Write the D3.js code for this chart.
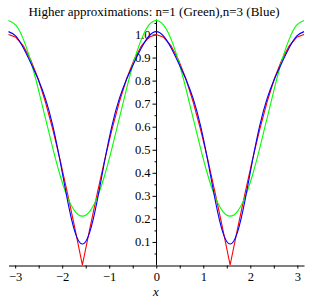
<!DOCTYPE html>
<html>
<head>
<meta charset="utf-8">
<script src="https://cdn.jsdelivr.net/npm/d3@7"></script>
<style>
  body { margin: 0; background: #fff; }
  svg { display: block; font-family: "Liberation Serif", "DejaVu Serif", serif; }
</style>
</head>
<body>
<div id="chart"></div>
<script>
// x values: -pi .. pi in steps of pi/20
const xVals = [-3.1416, -2.9845, -2.8274, -2.6704, -2.5133, -2.3562, -2.1991, -2.0420, -1.8850, -1.7279,
  -1.5708, -1.4137, -1.2566, -1.0996, -0.9425, -0.7854, -0.6283, -0.4712, -0.3142, -0.1571,
  0, 0.1571, 0.3142, 0.4712, 0.6283, 0.7854, 0.9425, 1.0996, 1.2566, 1.4137,
  1.5708, 1.7279, 1.8850, 2.0420, 2.1991, 2.3562, 2.5133, 2.6704, 2.8274, 2.9845, 3.1416]

// red: the function itself
const redVals = [1, .9877, .9511, .8910, .8090, .7071, .5878, .4540, .3090, .1564,
  0, .1564, .3090, .4540, .5878, .7071, .8090, .8910, .9511, .9877,
  1, .9877, .9511, .8910, .8090, .7071, .5878, .4540, .3090, .1564,
  0, .1564, .3090, .4540, .5878, .7071, .8090, .8910, .9511, .9877, 1]

// green: n=1 approximation
const greenVals = [1.0610, 1.0403, .9799, .8861, .7677, .6366, .5055, .3871, .2933, .2329,
  .2122, .2329, .2933, .3871, .5055, .6366, .7677, .8861, .9799, 1.0403,
  1.0610, 1.0403, .9799, .8861, .7677, .6366, .5055, .3871, .2933, .2329,
  .2122, .2329, .2933, .3871, .5055, .6366, .7677, .8861, .9799, 1.0403, 1.0610]

// blue: n=3 approximation
const blueVals = [1.0125, .9930, .9425, .8777, .8070, .7215, .6036, .4479, .2783, .1428,
  .0909, .1428, .2783, .4479, .6036, .7215, .8070, .8777, .9425, .9930,
  1.0125, .9930, .9425, .8777, .8070, .7215, .6036, .4479, .2783, .1428,
  .0909, .1428, .2783, .4479, .6036, .7215, .8070, .8777, .9425, .9930, 1.0125]

const xTicks = [-3, -2, -1, 0, 1, 2, 3]
const xMinor = [-2.5, -1.5, -0.5, 0.5, 1.5, 2.5]
const yTicks = [0.1, 0.2, 0.3, 0.4, 0.5, 0.6, 0.7, 0.8, 0.9, 1.0]
const yMinor = [0.05, 0.15, 0.25, 0.35, 0.45, 0.55, 0.65, 0.75, 0.85, 0.95, 1.05]

const width = 314
const height = 305

const svg = d3.select('#chart')
    .append('svg')
    .attr('width', width)
    .attr('height', height)

const xScale = d3.scaleLinear()
    .domain([-Math.PI, Math.PI])
    .range([8.5, 304])
const yScale = d3.scaleLinear()
    .domain([0, 1])
    .range([265, 34.5])

/* x axis */
const xAxisG = svg.append('g')
    .attr('transform', 'translate(0,265.5)')
    .call(d3.axisBottom(xScale).tickValues(xTicks).tickSize(3).tickSizeOuter(0)
        .tickFormat(d => d < 0 ? '\u2212' + Math.abs(d) : d))
xAxisG.selectAll('text').attr('font-size', 12.5).attr('font-family', 'Liberation Serif').attr('fill', '#000').attr('dy', '0.78em')
svg.append('g')
    .attr('transform', 'translate(0,265.5)')
    .call(d3.axisBottom(xScale).tickValues(xMinor).tickSize(3).tickSizeOuter(0).tickFormat(''))
    .select('.domain').remove()

/* y axis */
const yAxisG = svg.append('g')
    .attr('transform', 'translate(156.5,0)')
    .call(d3.axisLeft(yScale).tickValues(yTicks).tickSize(4).tickSizeOuter(0)
        .tickFormat(d3.format('.1f')))
yAxisG.select('.domain').attr('d', `M0,${yScale(0)}V${yScale(1.065)}`)
yAxisG.selectAll('text').attr('font-size', 12.5).attr('font-family', 'Liberation Serif').attr('fill', '#000').attr('x', -6)
svg.append('g')
    .attr('transform', 'translate(156.5,0)')
    .call(d3.axisLeft(yScale).tickValues(yMinor).tickSize(2).tickFormat(''))
    .select('.domain').remove()

/* curves */
const pts = vals => xVals.map((x, i) => [x, vals[i]])

const lineLinear = d3.line()
    .x(d => xScale(d[0]))
    .y(d => yScale(d[1]))
const lineSmooth = d3.line()
    .x(d => xScale(d[0]))
    .y(d => yScale(d[1]))
    .curve(d3.curveNatural)

svg.append('path')
    .datum(pts(redVals))
    .attr('fill', 'none')
    .attr('stroke', '#ff0000')
    .attr('stroke-width', 1.1)
    .attr('d', lineLinear)

svg.append('path')
    .datum(pts(greenVals))
    .attr('fill', 'none')
    .attr('stroke', '#00ff00')
    .attr('stroke-width', 1.1)
    .attr('d', lineSmooth)

svg.append('path')
    .datum(pts(blueVals))
    .attr('fill', 'none')
    .attr('stroke', '#0000ff')
    .attr('stroke-width', 1.1)
    .attr('d', lineSmooth)

/* title */
svg.append('text')
    .text('Higher approximations: n=1 (Green),n=3 (Blue)')
    .attr('x', 154)
    .attr('y', 16)
    .attr('text-anchor', 'middle')
    .attr('font-size', 13)
    .attr('fill', '#000')

/* x label */
svg.append('text')
    .text('x')
    .attr('x', 156)
    .attr('y', 296)
    .attr('text-anchor', 'middle')
    .attr('font-size', 13)
    .attr('font-style', 'italic')
    .attr('fill', '#000')
</script>
</body>
</html>
